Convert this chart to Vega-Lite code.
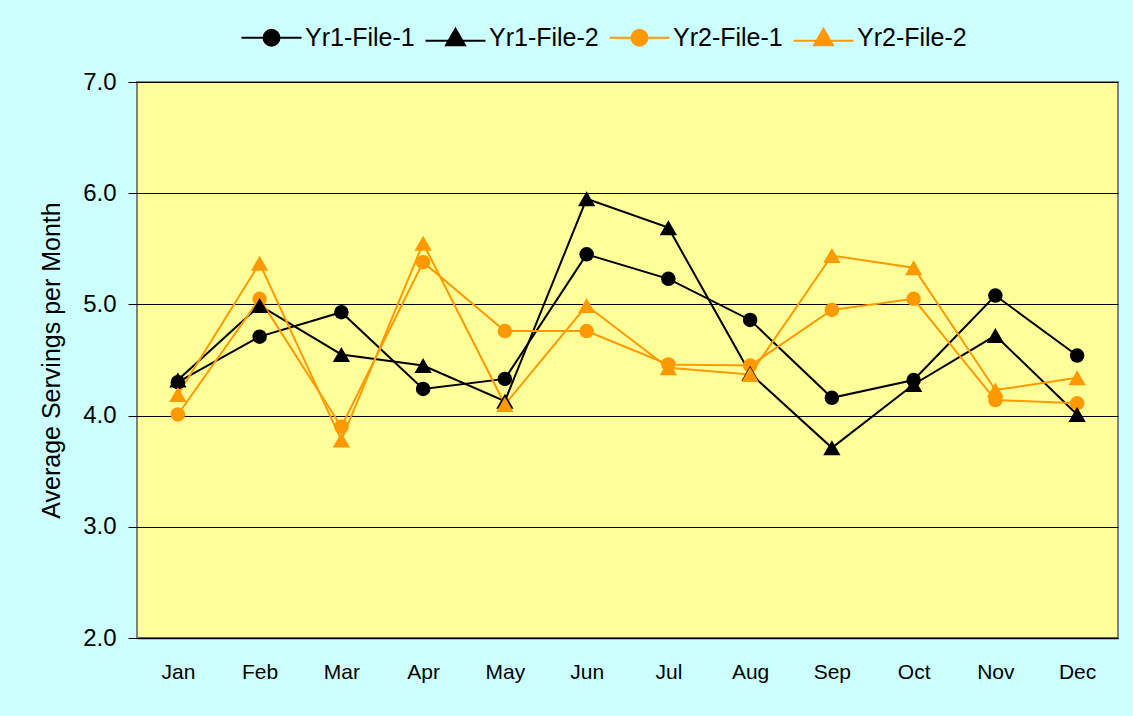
{
  "$schema": "https://vega.github.io/schema/vega-lite/v6.json",
  "autosize": "none",
  "width": 981,
  "height": 556,
  "padding": {"left": 137, "top": 82, "right": 15, "bottom": 78},
  "background": "#CCFFFF",
  "config": {
    "font": "Liberation Sans",
    "view": {"fill": "#FFFF99", "stroke": "#808080", "strokeWidth": 2}
  },
  "data": {
    "values": [
      {"month": "Jan", "series": "Yr1-File-1", "value": 4.30},
      {"month": "Feb", "series": "Yr1-File-1", "value": 4.71},
      {"month": "Mar", "series": "Yr1-File-1", "value": 4.93},
      {"month": "Apr", "series": "Yr1-File-1", "value": 4.24},
      {"month": "May", "series": "Yr1-File-1", "value": 4.33},
      {"month": "Jun", "series": "Yr1-File-1", "value": 5.45},
      {"month": "Jul", "series": "Yr1-File-1", "value": 5.23},
      {"month": "Aug", "series": "Yr1-File-1", "value": 4.86},
      {"month": "Sep", "series": "Yr1-File-1", "value": 4.16},
      {"month": "Oct", "series": "Yr1-File-1", "value": 4.32},
      {"month": "Nov", "series": "Yr1-File-1", "value": 5.08},
      {"month": "Dec", "series": "Yr1-File-1", "value": 4.54},
      {"month": "Jan", "series": "Yr1-File-2", "value": 4.32},
      {"month": "Feb", "series": "Yr1-File-2", "value": 4.99},
      {"month": "Mar", "series": "Yr1-File-2", "value": 4.55},
      {"month": "Apr", "series": "Yr1-File-2", "value": 4.45},
      {"month": "May", "series": "Yr1-File-2", "value": 4.13},
      {"month": "Jun", "series": "Yr1-File-2", "value": 5.95},
      {"month": "Jul", "series": "Yr1-File-2", "value": 5.69},
      {"month": "Aug", "series": "Yr1-File-2", "value": 4.38},
      {"month": "Sep", "series": "Yr1-File-2", "value": 3.71},
      {"month": "Oct", "series": "Yr1-File-2", "value": 4.28},
      {"month": "Nov", "series": "Yr1-File-2", "value": 4.72},
      {"month": "Dec", "series": "Yr1-File-2", "value": 4.01},
      {"month": "Jan", "series": "Yr2-File-1", "value": 4.01},
      {"month": "Feb", "series": "Yr2-File-1", "value": 5.05},
      {"month": "Mar", "series": "Yr2-File-1", "value": 3.90},
      {"month": "Apr", "series": "Yr2-File-1", "value": 5.38},
      {"month": "May", "series": "Yr2-File-1", "value": 4.76},
      {"month": "Jun", "series": "Yr2-File-1", "value": 4.76},
      {"month": "Jul", "series": "Yr2-File-1", "value": 4.46},
      {"month": "Aug", "series": "Yr2-File-1", "value": 4.45},
      {"month": "Sep", "series": "Yr2-File-1", "value": 4.95},
      {"month": "Oct", "series": "Yr2-File-1", "value": 5.05},
      {"month": "Nov", "series": "Yr2-File-1", "value": 4.14},
      {"month": "Dec", "series": "Yr2-File-1", "value": 4.11},
      {"month": "Jan", "series": "Yr2-File-2", "value": 4.19},
      {"month": "Feb", "series": "Yr2-File-2", "value": 5.37},
      {"month": "Mar", "series": "Yr2-File-2", "value": 3.78},
      {"month": "Apr", "series": "Yr2-File-2", "value": 5.55},
      {"month": "May", "series": "Yr2-File-2", "value": 4.10},
      {"month": "Jun", "series": "Yr2-File-2", "value": 4.99},
      {"month": "Jul", "series": "Yr2-File-2", "value": 4.43},
      {"month": "Aug", "series": "Yr2-File-2", "value": 4.37},
      {"month": "Sep", "series": "Yr2-File-2", "value": 5.44},
      {"month": "Oct", "series": "Yr2-File-2", "value": 5.33},
      {"month": "Nov", "series": "Yr2-File-2", "value": 4.23},
      {"month": "Dec", "series": "Yr2-File-2", "value": 4.34}
    ]
  },
  "encoding": {
    "x": {
      "field": "month", "type": "nominal",
      "sort": ["Jan","Feb","Mar","Apr","May","Jun","Jul","Aug","Sep","Oct","Nov","Dec"],
      "scale": {"paddingInner": 0, "paddingOuter": 0},
      "axis": {"title": null, "labelAngle": 0, "labelFontSize": 21, "labelColor": "#000000", "labelPadding": 23, "ticks": false, "domainColor": "#000000", "domainWidth": 1.5, "grid": false}
    },
    "y": {
      "field": "value", "type": "quantitative",
      "scale": {"domain": [2, 7], "nice": false, "zero": false},
      "axis": {"title": "Average Servings per Month", "titleFontSize": 25, "titleFontWeight": "normal", "titleColor": "#000000", "titlePadding": 18, "values": [2,3,4,5,6,7], "format": ".1f", "labelFontSize": 24, "labelColor": "#000000", "labelPadding": 12, "tickSize": 9, "tickColor": "#000000", "domain": false, "grid": true, "gridColor": "#000000", "gridWidth": 1, "gridOpacity": 1}
    }
  },
  "layer": [
    {
      "mark": {"type": "line", "strokeWidth": 2},
      "encoding": {
        "color": {
          "field": "series", "type": "nominal",
          "scale": {"domain": ["Yr1-File-1","Yr1-File-2","Yr2-File-1","Yr2-File-2"], "range": ["#000000","#000000","#FF9900","#FF9900"]},
          "legend": {
            "title": null, "orient": "none", "direction": "horizontal", "legendX": 122, "legendY": -57,
            "labelFontSize": 25, "labelColor": "#000000", "symbolSize": 400, "symbolStrokeWidth": 2, "columnPadding": 6, "labelOffset": 21,
            "encode": {
              "symbols": {
                "update": {
                  "shape": {"signal": "(datum.value === 'Yr1-File-1' || datum.value === 'Yr2-File-1') ? 'M-3,0H3M0.8,0A0.8,0.8,0,1,1,-0.8,0A0.8,0.8,0,1,1,0.8,0Z' : 'M-3,0.3H3M0,-0.9L0.95,0.75L-0.95,0.75Z'"},
                  "fill": {"scale": "color", "field": "value"},
                  "stroke": {"scale": "color", "field": "value"},
                  "strokeWidth": {"value": 2},
                  "opacity": {"value": 1}
                }
              }
            }
          }
        }
      }
    },
    {
      "transform": [{"filter": {"field": "series", "oneOf": ["Yr1-File-1", "Yr2-File-1"]}}],
      "mark": {"type": "point", "shape": "circle", "filled": true, "opacity": 1, "size": 210},
      "encoding": {
        "color": {"field": "series", "type": "nominal", "legend": null}
      }
    },
    {
      "transform": [{"filter": {"field": "series", "oneOf": ["Yr1-File-2", "Yr2-File-2"]}}],
      "mark": {"type": "point", "shape": "triangle-up", "filled": true, "opacity": 1, "size": 300},
      "encoding": {
        "color": {"field": "series", "type": "nominal", "legend": null}
      }
    }
  ]
}
